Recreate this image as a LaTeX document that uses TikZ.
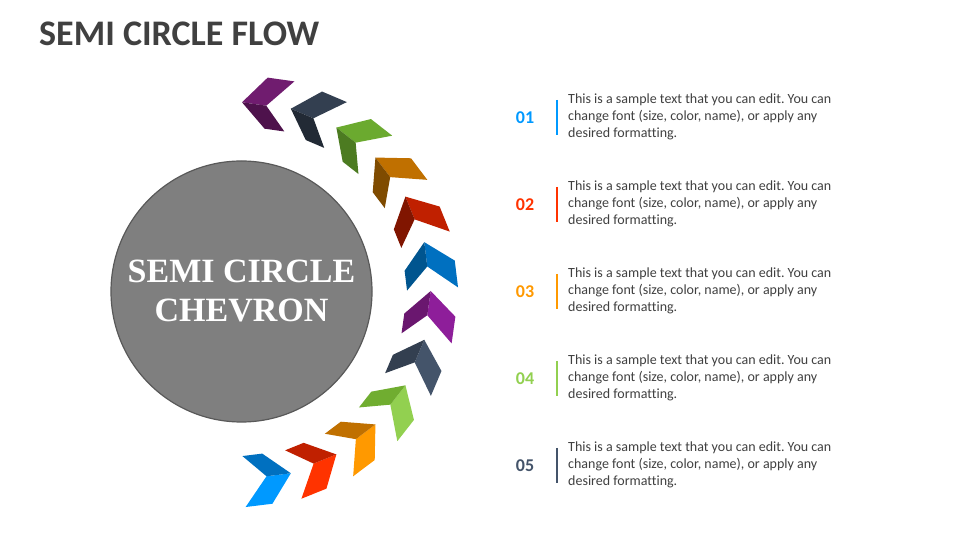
\documentclass[tikz,border=0pt]{standalone}
\usepackage{fontspec}
\setmainfont{Carlito}[Ligatures=NoCommon]
\newfontfamily\serifface{Liberation Serif}
\usetikzlibrary{calc}
\frenchspacing
\definecolor{titlegray}{HTML}{404040}
\definecolor{bodygray}{HTML}{404040}
\definecolor{circgray}{HTML}{7F7F7F}
\definecolor{circedge}{HTML}{595959}
\definecolor{c1o}{HTML}{701C6F}\definecolor{c1i}{HTML}{4E124C}
\definecolor{c2o}{HTML}{333F50}\definecolor{c2i}{HTML}{222A35}
\definecolor{c3o}{HTML}{6BAA2F}\definecolor{c3i}{HTML}{4C7B21}
\definecolor{c4o}{HTML}{C07000}\definecolor{c4i}{HTML}{7F4B00}
\definecolor{c5o}{HTML}{C02000}\definecolor{c5i}{HTML}{801500}
\definecolor{c6o}{HTML}{0070C0}\definecolor{c6i}{HTML}{00558F}
\definecolor{c7o}{HTML}{8E1E9A}\definecolor{c7i}{HTML}{6A176F}
\definecolor{c8o}{HTML}{44546A}\definecolor{c8i}{HTML}{333F50}
\definecolor{c9o}{HTML}{92D050}\definecolor{c9i}{HTML}{70AD30}
\definecolor{c10o}{HTML}{FF9900}\definecolor{c10i}{HTML}{C07000}
\definecolor{c11o}{HTML}{FF3300}\definecolor{c11i}{HTML}{C02000}
\definecolor{c12o}{HTML}{0099FF}\definecolor{c12i}{HTML}{0070C0}
\definecolor{n1}{HTML}{0099FF}
\definecolor{n2}{HTML}{FF3300}
\definecolor{n3}{HTML}{FF9900}
\definecolor{n4}{HTML}{92D050}
\definecolor{n5}{HTML}{44546A}
\tikzset{
  numlabel/.style={font=\fontsize{18}{20}\selectfont\bfseries, inner sep=0},
  bodytext/.style={anchor=west, align=left, inner sep=0, text=bodygray, font=\fontsize{14}{17}\selectfont},
  barline/.style={line width=2pt}
}
\begin{document}
\begin{tikzpicture}[x=1pt,y=1pt]
\useasboundingbox (0,0) rectangle (960,540);
\fill[white] (0,0) rectangle (960,540);
\node[anchor=base west, inner sep=0, text=titlegray, font=\fontsize{36}{40}\selectfont\bfseries] (title) at (39,494) {SEMI CIRCLE FLOW};
\node[circle, minimum size=261pt, fill=circgray, draw=circedge, line width=1.2pt, inner sep=0] (hub) at (241.5,248.5) {};
\node[align=center, text=white, font=\serifface\bfseries\fontsize{34}{39}\selectfont] (hubtext) at (hub.center) {SEMI CIRCLE\\CHEVRON};
\foreach \k in {1,...,12}{
  \pgfmathsetmacro\th{90-15*(\k-1)}
  \begin{scope}[shift={($(242,249)+(\th:188.7)$)}, rotate=\th+82]
    \fill[c\k o] (0,0) -- (-22,-28) -- (-49,-28) -- (-24.5,0) -- cycle;
    \fill[c\k i] (0,0) -- (-24.5,0) -- (-46,23) -- (-26,23) -- cycle;
  \end{scope}
}
\foreach \i/\num/\c in {0/01/n1,1/02/n2,2/03/n3,3/04/n4,4/05/n5}{
  \node[numlabel, text=\c] (num\i) at (525,422-87*\i) {\num};
  \coordinate (bartop\i) at (557,440-87*\i);
  \coordinate (barbot\i) at (557,405-87*\i);
  \draw[barline, \c] (bartop\i) -- (barbot\i);
  \node[bodytext] (txt\i) at (568,423.5-87*\i) {This is a sample text that you can edit. You can\\change font (size, color, name), or apply any\\desired formatting.};
}
\end{tikzpicture}
\end{document}
